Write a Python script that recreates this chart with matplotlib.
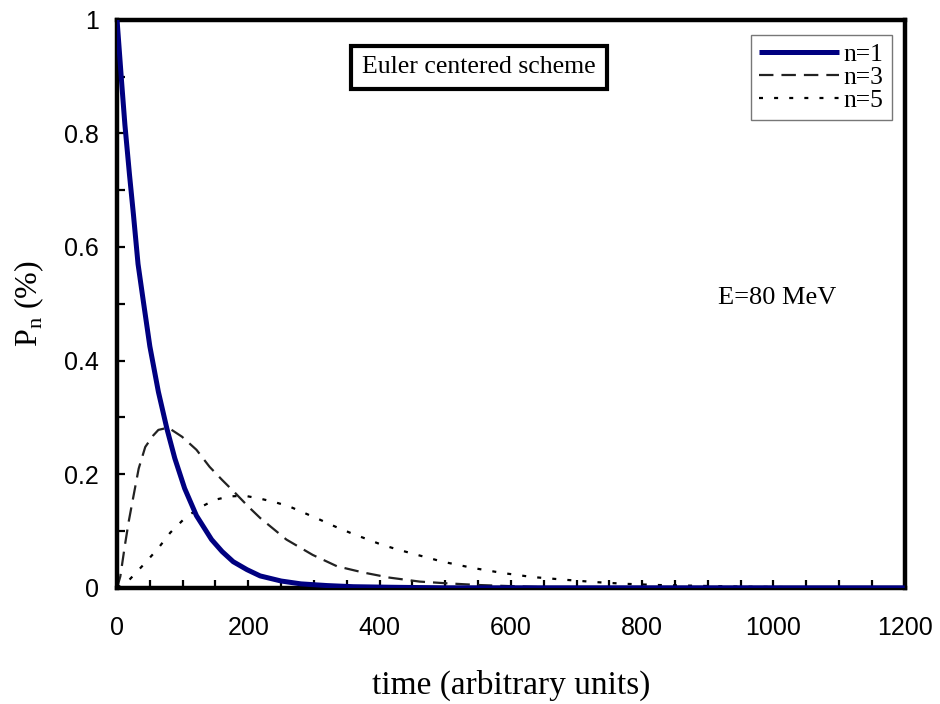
import matplotlib
matplotlib.use("Agg")
import matplotlib.pyplot as plt
from matplotlib.ticker import MultipleLocator

# values
t_n1 = [0, 7, 12, 19, 25, 32, 40, 50, 63, 76, 88, 103, 121, 144, 160, 177, 198, 218, 250, 280,
        320, 360, 420, 500, 700, 900, 1200]
p_n1 = [1.0, 0.89, 0.815, 0.727, 0.657, 0.57, 0.505, 0.425, 0.345, 0.28, 0.228, 0.175, 0.127,
        0.085, 0.064, 0.046, 0.032, 0.021, 0.012, 0.007, 0.004, 0.002, 0.001, 0.0, 0.0, 0.0, 0.0]

t_n3 = [0, 5, 12, 18, 24, 33, 43, 55, 63, 78, 99, 121, 141, 160, 180, 200, 218, 258, 298, 335,
        375, 415, 461, 502, 550, 600, 650, 700, 900, 1200]
p_n3 = [0.0, 0.02, 0.075, 0.118, 0.155, 0.21, 0.248, 0.268, 0.278, 0.282, 0.266, 0.243, 0.213,
        0.19, 0.167, 0.143, 0.123, 0.085, 0.058, 0.038, 0.027, 0.018, 0.011, 0.008, 0.005, 0.003,
        0.001, 0.0, 0.0, 0.0]

t_n5 = [0, 17, 30, 43, 63, 81, 101, 124, 149, 172, 195, 218, 240, 263, 285, 309, 332, 355, 380,
        403, 426, 451, 496, 542, 588, 633, 685, 730, 776, 822, 868, 950, 1050, 1200]
p_n5 = [0.0, 0.012, 0.028, 0.044, 0.07, 0.097, 0.12, 0.14, 0.155, 0.161, 0.162, 0.157, 0.151,
        0.143, 0.132, 0.12, 0.108, 0.097, 0.086, 0.076, 0.068, 0.06, 0.046, 0.035, 0.026, 0.019,
        0.014, 0.010, 0.007, 0.005, 0.004, 0.002, 0.001, 0.0]

x_ticks = [0, 200, 400, 600, 800, 1000, 1200]
y_ticks = [0, 0.2, 0.4, 0.6, 0.8, 1.0]
y_tick_labels = ["0", "0.2", "0.4", "0.6", "0.8", "1"]

serif = ["Liberation Serif", "DejaVu Serif"]
sans = ["Liberation Sans", "DejaVu Sans"]

fig = plt.figure(figsize=(9.4, 7.04), dpi=100)
ax = fig.add_axes([0.1245, 0.165, 0.838, 0.807])

ax.plot(t_n1, p_n1, color="#000080", lw=3.6, label="n=1", solid_capstyle="butt", zorder=3)
ax.plot(t_n3, p_n3, color="#222222", lw=1.6, dashes=(6.5, 3.6), label="n=3")
ax.plot(t_n5, p_n5, color="black", lw=1.6, dashes=(1.8, 5.0), label="n=5")

ax.set_xlim(0, 1200)
ax.set_ylim(0, 1)
ax.set_xticks(x_ticks)
ax.set_yticks(y_ticks)
ax.set_yticklabels(y_tick_labels)
ax.xaxis.set_minor_locator(MultipleLocator(50))
ax.yaxis.set_minor_locator(MultipleLocator(0.1))
ax.tick_params(which="both", direction="in", top=False, right=False, width=1.6, length=6)
ax.tick_params(which="major", labelsize=18)
ax.tick_params(axis="x", which="major", pad=20)
ax.tick_params(axis="y", which="major", pad=13)
for lab in ax.get_xticklabels() + ax.get_yticklabels():
    lab.set_family(sans)

for spine in ax.spines.values():
    spine.set_linewidth(3.2)

ax.set_xlabel("time (arbitrary units)", family=serif, fontsize=24, labelpad=22)
ax.set_ylabel(r"P$_\mathregular{n}$ (%)", family=serif, fontsize=23, labelpad=13)

ax.text(0.4594, 0.916, "Euler centered scheme", transform=ax.transAxes, family=serif,
        fontsize=18.5, ha="center", va="center",
        bbox=dict(boxstyle="square,pad=0.42", fc="white", ec="black", lw=3.0))
ax.text(0.8376, 0.5106, "E=80 MeV", transform=ax.transAxes, family=serif, fontsize=19,
        ha="center", va="center")

leg = ax.legend(loc="upper right", bbox_to_anchor=(0.9835, 0.9736),
                prop={"family": serif, "size": 18.4},
                frameon=True, fancybox=False, handlelength=3.1, handletextpad=0.2,
                labelspacing=0.0, borderpad=0.32, borderaxespad=0.0)
leg.get_frame().set_edgecolor("#555555")
leg.get_frame().set_linewidth(1.0)

fig.savefig("out.png", dpi=100)
